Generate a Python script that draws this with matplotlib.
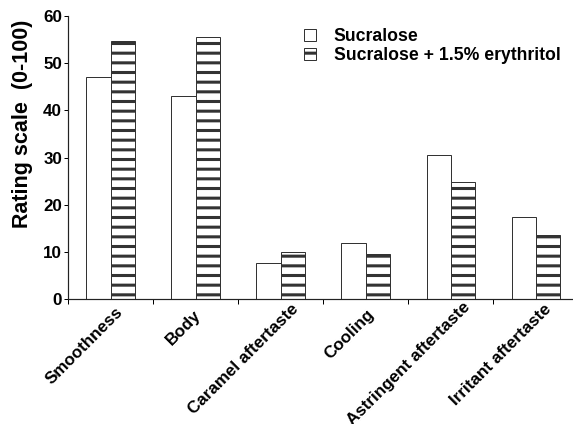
import matplotlib
matplotlib.use("Agg")
import matplotlib.pyplot as plt
import matplotlib.transforms as mtransforms
import numpy as np

categories = ["Smoothness", "Body", "Caramel aftertaste", "Cooling",
              "Astringent aftertaste", "Irritant aftertaste"]
sucralose = [47.0, 43.1, 7.6, 11.8, 30.5, 17.3]
sucralose_ery = [54.6, 55.6, 10.0, 9.5, 24.7, 13.6]
series_labels = ["Sucralose", "Sucralose + 1.5% erythritol"]
yticks = [0, 10, 20, 30, 40, 50, 60]

DPI = 58
W, H = 573, 424
plt.rcParams['font.family'] = ['Liberation Sans', 'DejaVu Sans']
plt.rcParams['font.weight'] = 'bold'
plt.rcParams['hatch.linewidth'] = 3.8
plt.rcParams['hatch.color'] = 'black'

def px(v):
    return v * 72.0 / DPI

fig = plt.figure(figsize=(W / DPI, H / DPI), dpi=DPI)
ax = fig.add_axes([68 / W, 1 - 299 / H, 1 - 68 / W, (299 - 16) / H])

x = np.arange(len(categories))
bw = 0.283
ax.bar(x - bw / 2, sucralose, bw, facecolor='white', edgecolor='#333333',
       linewidth=px(1.0), label=series_labels[0])
ax.bar(x + bw / 2, sucralose_ery, bw, facecolor='white', edgecolor='#333333',
       linewidth=px(1.0), hatch='-', label=series_labels[1])

ax.set_xlim(-0.5, 5.44)
ax.set_ylim(0, 60)
ax.set_yticks(yticks)
ax.set_yticklabels([str(v) for v in yticks], fontsize=px(17), fontweight='bold')
ax.set_xticks(np.arange(-0.5, 5.5, 1.0))
ax.set_xticklabels([])
ax.tick_params(axis='x', length=px(5), width=px(1), direction='out')
ax.tick_params(axis='y', length=px(4), width=px(1), direction='out', pad=px(2))
for s in ['top', 'right']:
    ax.spines[s].set_visible(False)
for s in ['left', 'bottom']:
    ax.spines[s].set_linewidth(px(1.2))
    ax.spines[s].set_color('#222222')

# rotated category labels
fig.canvas.draw()
renderer = fig.canvas.get_renderer()
base = mtransforms.blended_transform_factory(ax.transData, ax.transAxes)
lab_fs = px(17)
for i, name in enumerate(categories):
    tmp = fig.text(0, 0, name, fontsize=lab_fs, fontweight='bold')
    L = tmp.get_window_extent(renderer).width
    tmp.remove()
    dx = 0.11 * L - 6.5
    dy = 0.065 * L - 11.6
    off = mtransforms.ScaledTranslation(dx / DPI, dy / DPI, fig.dpi_scale_trans)
    ax.text(i, 0, name, transform=base + off, rotation=45, ha='right', va='top',
            rotation_mode='anchor', fontsize=lab_fs, fontweight='bold', clip_on=False)

ax.set_ylabel("Rating scale  (0-100)", fontsize=px(21.5), fontweight='bold')
ax.yaxis.set_label_coords(-35 / 505, (299 - 124) / 283)

leg = ax.legend(loc='upper left', bbox_to_anchor=(304 / W, 1 - 28 / H),
                bbox_transform=fig.transFigure, frameon=False,
                prop={'family': 'Liberation Sans', 'weight': 'bold', 'size': px(17.6)},
                handlelength=0.68, handleheight=0.68, handletextpad=1.0,
                labelspacing=0.12, borderpad=0, borderaxespad=0)

fig.savefig("out.png", dpi=DPI)
